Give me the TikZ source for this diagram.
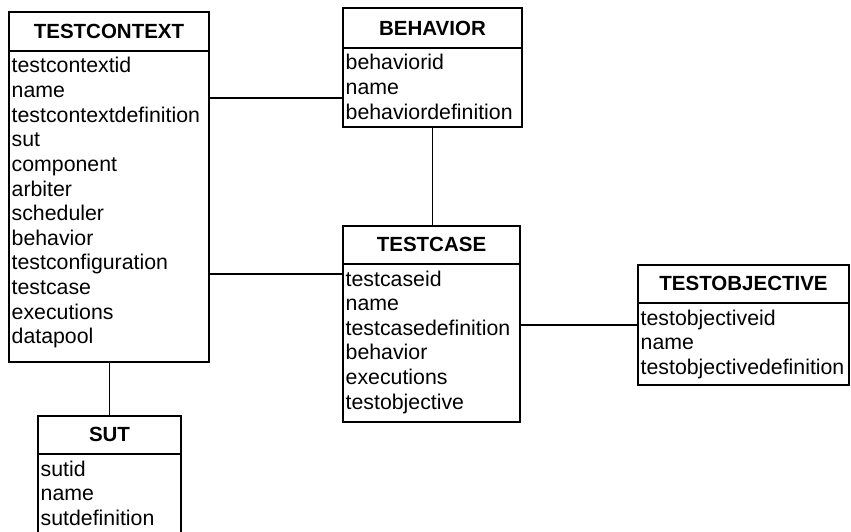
\documentclass[tikz,border=0pt]{standalone}
\usepackage{fontspec}
\setmainfont{Liberation Sans}
\usetikzlibrary{calc}
\tikzset{
  frame/.style={draw, line width=1.3pt, inner sep=0pt, outer sep=0pt},
  rule/.style={line width=1.3pt},
  link/.style={line width=1.1pt},
  hdr/.style={font=\fontsize{20.5}{24}\selectfont\bfseries, inner sep=0pt, anchor=base},
  row/.style={font=\fontsize{21.3}{24.6}\selectfont, inner sep=0pt, anchor=base west},
}
% entity box: name, left, top, width, height, header height, title, attribute list
\newcommand\erbox[8]{%
  \node[frame, minimum width=#4pt, minimum height=#5pt, anchor=north west] (#1) at (#2,-#3) {};
  \draw[rule] ($(#1.north west)+(0,-#6)$) -- ($(#1.north east)+(0,-#6)$);
  \node[hdr] (#1-t) at ($(#1.north)+(0,{-#6+12.5})$) {#7};
  \foreach \r [count=\i] in {#8}
    \node[row] (#1-r\i) at ($(#1.north west)+(2.5,{-#6-22-(\i-1)*24.6})$) {\r};
}
\begin{document}
\begin{tikzpicture}[x=1pt, y=1pt]
  \useasboundingbox (0,0) rectangle (851,-532);

  \erbox{tc}{9}{12}{200}{350}{39}{TESTCONTEXT}{testcontextid,name,testcontextdefinition,sut,component,arbiter,scheduler,behavior,testconfiguration,testcase,executions,datapool}
  \erbox{beh}{343}{8}{179}{119}{40}{BEHAVIOR}{behaviorid,name,behaviordefinition}
  \erbox{tcase}{343}{226}{177}{196}{38}{TESTCASE}{testcaseid,name,testcasedefinition,behavior,executions,testobjective}
  \erbox{tobj}{638}{265}{211}{120}{38}{TESTOBJECTIVE}{testobjectiveid,name,testobjectivedefinition}
  \erbox{sut}{38}{416}{143}{122}{38}{SUT}{sutid,name,sutdefinition}

  % relationships
  \draw[link] (tc.east |- 0,-98) -- (beh.west |- 0,-98);
  \draw[link] (beh.south) -- (beh.south |- tcase.north);
  \draw[link] (tc.east |- 0,-274) -- (tcase.west |- 0,-274);
  \draw[link] (tcase.east |- 0,-325) -- (tobj.west |- 0,-325);
  \draw[link] (sut.north |- tc.south) -- (sut.north);
\end{tikzpicture}
\end{document}
